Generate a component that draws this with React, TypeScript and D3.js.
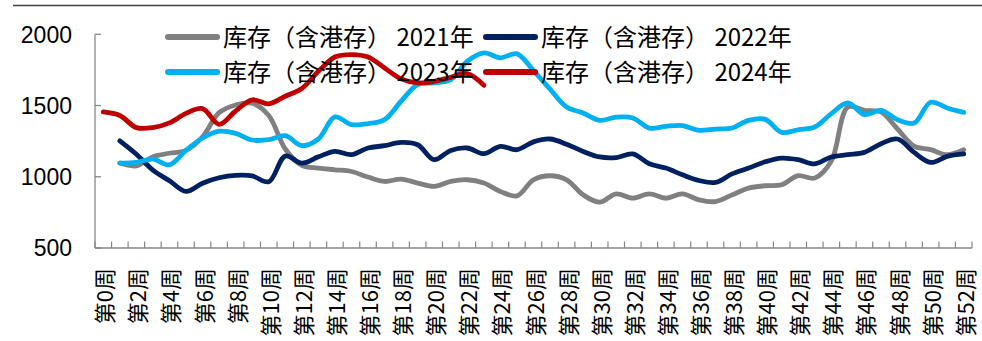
import React from "react";
import * as d3 from "d3";

const weeks: string[] = d3.range(0, 53).map((i) => `第${i}周`);
const yTicks = [500, 1000, 1500, 2000];

const seriesNames = [
  "库存（含港存） 2021年",
  "库存（含港存） 2022年",
  "库存（含港存） 2023年",
  "库存（含港存） 2024年",
];
const seriesColors = ["#808080", "#002060", "#00B0F0", "#C00000"];

const s2021: (number | null)[] = [
  null, 1096, 1077, 1141, 1165, 1185, 1280, 1450, 1504, 1516, 1430, 1195, 1080,
  1061, 1049, 1037, 998, 967, 984, 956, 932, 967, 979, 956, 897, 866, 979, 1007,
  979, 873, 822, 880, 850, 880, 850, 880, 838, 826, 873, 920, 937, 944, 1008,
  991, 1110, 1490, 1466, 1455, 1335, 1215, 1190, 1155, 1190,
];
const s2022: (number | null)[] = [
  null, 1252, 1158, 1047, 972, 897, 955, 993, 1010, 1006, 965, 1145, 1096, 1140,
  1178, 1155, 1202, 1218, 1241, 1225, 1120, 1185, 1202, 1162, 1213, 1190, 1245,
  1265, 1228, 1178, 1139, 1135, 1160, 1091, 1061, 1014, 974, 960, 1020, 1061,
  1105, 1131, 1120, 1091, 1139, 1155, 1171, 1232, 1265, 1171, 1101, 1143, 1160,
];
const s2023: (number | null)[] = [
  null, 1096, 1101, 1124, 1084, 1185, 1272, 1320, 1305, 1258, 1260, 1288, 1218,
  1265, 1420, 1366, 1373, 1401, 1530, 1647, 1659, 1682, 1811, 1870, 1835, 1863,
  1745, 1615, 1490, 1448, 1396, 1418, 1413, 1342, 1354, 1359, 1326, 1335, 1342,
  1396, 1403, 1312, 1330, 1349, 1443, 1518, 1436, 1466, 1401, 1377, 1523, 1483,
  1452,
];
const s2024: (number | null)[] = [
  1455, 1430, 1345, 1345, 1378, 1445, 1478, 1368, 1462, 1540, 1512, 1565, 1620,
  1740, 1841, 1858, 1841, 1764, 1687, 1659, 1670, 1698, 1724, 1642,
];

const allSeries = [s2021, s2022, s2023, s2024];

const W = 982;
const H = 341;
const X0 = 95;
const X1 = 972;
const YBOT = 248;
const YTOP = 34.3;

export default function App() {
  const x = d3.scaleBand<string>().domain(weeks).range([X0, X1]).padding(0);
  const bw = x.bandwidth();
  const cx = (i: number) => (x(weeks[i]) as number) + bw / 2;
  const y = d3.scaleLinear().domain([500, 2000]).range([YBOT, YTOP]);

  const line = d3
    .line<number | null>()
    .defined((d) => d !== null)
    .x((_, i) => cx(i))
    .y((d) => y(d as number))
    .curve(d3.curveCatmullRom.alpha(0.5));

  const axisColor = "#868686";
  const tickXs = weeks.map((w) => x(w) as number).concat([X1]);

  const legendPos = [
    { lx: 165, ly: 37 },
    { lx: 483, ly: 37 },
    { lx: 165, ly: 72 },
    { lx: 483, ly: 72 },
  ];

  return (
    <svg
      width={W}
      height={H}
      style={{ position: "absolute", left: 0, top: 0, background: "#fff" }}
    >
      <rect x={0} y={0} width={W} height={H} fill="#fff" />
      <line x1={13} x2={W} y1={5.5} y2={5.5} stroke="#404040" strokeWidth={1.5} />

      {/* y axis */}
      <line x1={X0} x2={X0} y1={YTOP} y2={YBOT} stroke={axisColor} strokeWidth={1.3} />
      {yTicks.map((t) => (
        <g key={t}>
          <line x1={X0} x2={X0 + 6} y1={y(t)} y2={y(t)} stroke={axisColor} strokeWidth={1.3} />
          <text
            x={72}
            y={y(t)}
            dy="0.36em"
            textAnchor="end"
            fontFamily="'Liberation Sans', Arial, sans-serif"
            fontSize={23}
            fill="#000"
          >
            {t}
          </text>
        </g>
      ))}

      {/* x axis */}
      <line x1={X0} x2={X1} y1={YBOT} y2={YBOT} stroke={axisColor} strokeWidth={1.3} />
      {tickXs.map((tx, k) => (
        <line key={k} x1={tx} x2={tx} y1={YBOT} y2={YBOT - 6.5} stroke={axisColor} strokeWidth={1.2} />
      ))}
      {weeks.map((w, i) =>
        i % 2 === 0 ? (
          <text
            key={w}
            transform={`translate(${cx(i)},268) rotate(-90)`}
            textAnchor="end"
            dominantBaseline="central"
            fontFamily="'Noto Sans CJK SC', sans-serif"
            fontSize={22}
            fill="#000"
          >
            {w}
          </text>
        ) : null
      )}

      {/* series */}
      {allSeries.map((s, k) => (
        <path
          key={k}
          d={line(s) || ""}
          fill="none"
          stroke={seriesColors[k]}
          strokeWidth={4.8}
          strokeLinecap="round"
          strokeLinejoin="round"
        />
      ))}

      {/* legend */}
      {seriesNames.map((n, k) => (
        <g key={n}>
          <line
            x1={legendPos[k].lx + 3}
            x2={legendPos[k].lx + 52}
            y1={legendPos[k].ly}
            y2={legendPos[k].ly}
            stroke={seriesColors[k]}
            strokeWidth={6}
            strokeLinecap="round"
          />
          <text
            x={legendPos[k].lx + 58}
            y={legendPos[k].ly}
            dy="0.36em"
            fontFamily="'Noto Sans CJK SC', sans-serif"
            fontSize={24}
            fill="#000"
          >
            {n}
          </text>
        </g>
      ))}
    </svg>
  );
}
